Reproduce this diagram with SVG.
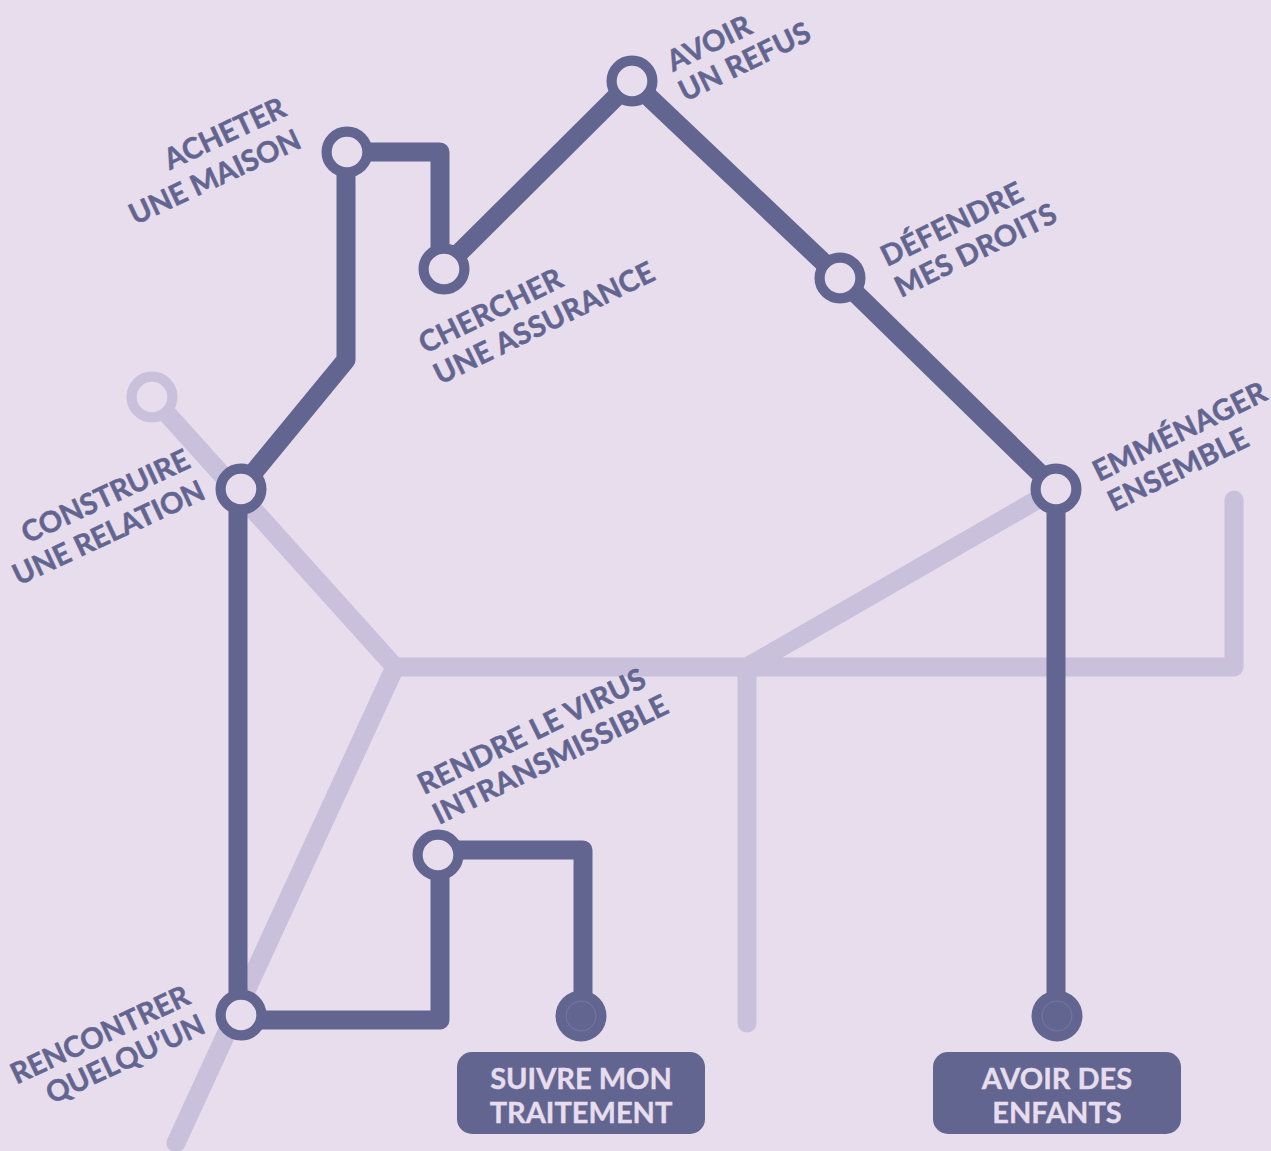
<svg xmlns="http://www.w3.org/2000/svg" width="1271" height="1151" viewBox="0 0 1271 1151">
<style>
.l{fill:none;stroke-linecap:round;stroke-linejoin:round;stroke-width:19}
.d{stroke:#636591}.p{stroke:#c9c0dc}
.n{fill:#e7ddec;stroke-width:10.2}
.t{font-family:"Lato","Liberation Sans",sans-serif;font-weight:700;font-size:29px;letter-spacing:.35px;fill:#636591;stroke:#636591;stroke-width:.5}
.b{font-family:"Lato","Liberation Sans",sans-serif;font-weight:700;font-size:29px;fill:#e7ddec;stroke:#e7ddec;stroke-width:.4;text-anchor:middle}
.e{text-anchor:end;letter-spacing:0}
</style>
<rect width="1271" height="1151" fill="#e7ddec"/>
<g id="connectors">
<path class="l p" d="M152 397L395 667H1234V500M395 667L176 1143M747 667V1023M747 667L1056 489"/>
<path class="l d" d="M238 489V1015M346 152V360L240 489M346 152H440V268M444 268L632 81L840 278L1056 489V1015M240 1020H440V855M438 850H583V1015"/>
</g>
<g id="n-start"><circle class="n p" cx="152" cy="397" r="20.4"/></g>
<g id="n-acheter"><circle class="n d" cx="347" cy="152" r="20.4"/>
<text class="t e" transform="translate(288 115) rotate(-25)">ACHETER</text><text class="t e" transform="translate(303 147) rotate(-25)">UNE MAISON</text></g>
<g id="n-chercher"><circle class="n d" cx="444" cy="269" r="20.4"/>
<text class="t" transform="translate(425 354) rotate(-26)">CHERCHER</text><text class="t" transform="translate(440 385) rotate(-26)">UNE ASSURANCE</text></g>
<g id="n-avoir"><circle class="n d" cx="632" cy="81" r="20.4"/>
<text class="t" transform="translate(673 72) rotate(-26)">AVOIR</text><text class="t" transform="translate(685 102) rotate(-26)">UN REFUS</text></g>
<g id="n-defendre"><circle class="n d" cx="840" cy="278" r="20.4"/>
<text class="t" transform="translate(887 267) rotate(-26)">DÉFENDRE</text><text class="t" transform="translate(901 298) rotate(-26)">MES DROITS</text></g>
<g id="n-emmenager"><circle class="n d" cx="1056" cy="489" r="20.4"/>
<text class="t" transform="translate(1099 482) rotate(-26)">EMMÉNAGER</text><text class="t" transform="translate(1114 512) rotate(-26)">ENSEMBLE</text></g>
<g id="n-construire"><circle class="n d" cx="241" cy="489" r="20.4"/>
<text class="t e" transform="translate(192 467) rotate(-25)">CONSTRUIRE</text><text class="t e" transform="translate(207 498) rotate(-25)">UNE RELATION</text></g>
<g id="n-rencontrer"><circle class="n d" cx="241" cy="1015" r="20.4"/>
<text class="t e" transform="translate(192 1003) rotate(-25)">RENCONTRER</text><text class="t e" transform="translate(207 1032) rotate(-25)">QUELQU’UN</text></g>
<g id="n-rendre"><circle class="n d" cx="438" cy="855" r="20.4"/>
<text class="t" transform="translate(424 795) rotate(-26)">RENDRE LE VIRUS</text><text class="t" transform="translate(439 825) rotate(-26)">INTRANSMISSIBLE</text></g>
<g id="n-suivre"><circle cx="581" cy="1016" r="25.5" fill="#636591"/><circle cx="581" cy="1016" r="15" fill="none" stroke="#8a8aaa" stroke-width=".5"/>
<rect x="457" y="1052" width="248" height="82" rx="15" fill="#636591"/>
<text class="b" x="581" y="1089">SUIVRE MON</text><text class="b" x="581" y="1123">TRAITEMENT</text></g>
<g id="n-enfants"><circle cx="1057" cy="1016" r="25.5" fill="#636591"/><circle cx="1057" cy="1016" r="15" fill="none" stroke="#8a8aaa" stroke-width=".5"/>
<rect x="933" y="1052" width="248" height="82" rx="15" fill="#636591"/>
<text class="b" x="1057" y="1089">AVOIR DES</text><text class="b" x="1057" y="1123">ENFANTS</text></g>
</svg>
